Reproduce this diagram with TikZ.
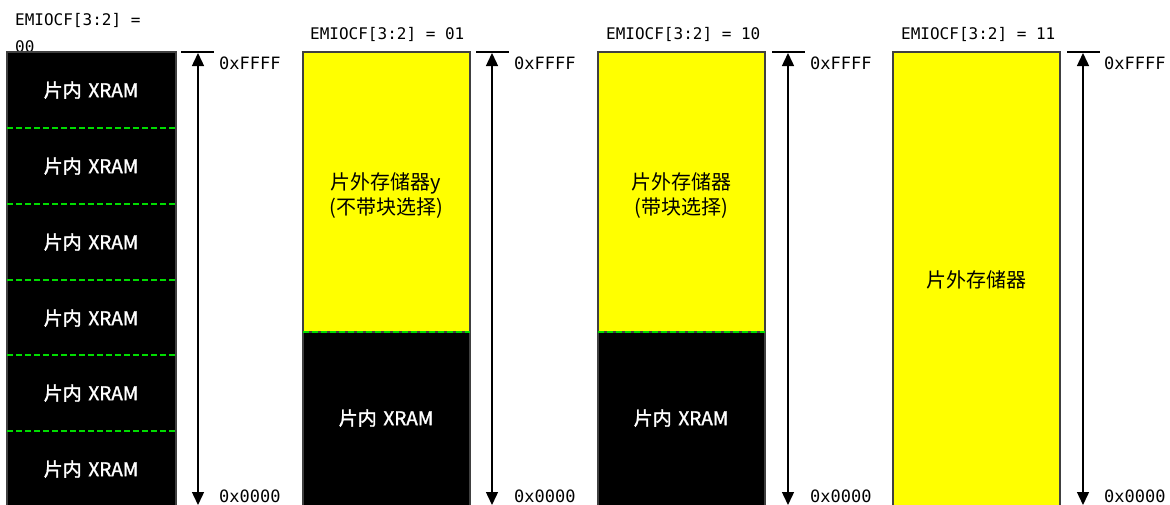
\documentclass[tikz,border=0pt]{standalone}
\usepackage{fontspec}
\setmainfont{Noto Sans CJK SC}
\newfontfamily\cjk{Noto Sans CJK SC}
\newfontfamily\cjkb[FakeBold=1.5]{Noto Sans CJK SC}
\newfontfamily\monof{DejaVu Sans Mono}
\usetikzlibrary{arrows.meta}
\definecolor{memyellow}{RGB}{255,255,0}
\definecolor{divgreen}{RGB}{0,220,0}
\tikzset{
  memblk/.style={draw=black!75,line width=1.4pt,inner sep=0pt,outer sep=0pt,anchor=north west},
  xram/.style={memblk,fill=black},
  ext/.style={memblk,fill=memyellow},
  divline/.style={divgreen,line width=2pt,dash pattern=on 6pt off 3pt},
  xramtxt/.style={text=white,font=\cjkb\fontsize{19}{22}\selectfont,inner sep=0pt},
  exttxt/.style={text=black,font=\cjk\fontsize{20}{25}\selectfont,align=center,inner sep=0pt},
  toplbl/.style={font=\monof\fontsize{16}{20}\selectfont,anchor=west,inner sep=0pt,align=left},
  hexlbl/.style={font=\monof\fontsize{17}{18}\selectfont,anchor=west,inner sep=0pt},
  tick/.style={line width=1.8pt},
  span/.style={line width=1.4pt,{Triangle[length=13pt,width=12pt]}-{Triangle[length=13pt,width=12pt]}}
}
\newcommand{\xramlabel}{片内\hspace{0.35em}XRAM}
\begin{document}
\begin{tikzpicture}[x=1pt,y=-1pt]
\useasboundingbox (0,0) rectangle (1170,504);
% ---------- column 1 ----------
\node[toplbl] (l1a) at (15,20) {EMIOCF[3:2] =};
\node[toplbl] (l1b) at (15,47) {00};
\node[xram,minimum width=169pt,minimum height=460pt] (b1) at (7,52) {};
\foreach \yy in {128,204,280,355,431} {
  \draw[divline] (7,\yy) -- (176,\yy);
}
\foreach \yy [count=\i] in {90,166,242,318,393,469} {
  \node[xramtxt] (t1\i) at (91,\yy) {\xramlabel};
}
\coordinate (a1t) at (198,53);
\coordinate (a1b) at (198,505);
\coordinate (k1l) at (181,52);
\coordinate (k1r) at (214,52);
\draw[tick] (k1l) -- (k1r);
\draw[span] (a1b) -- (a1t);
\node[hexlbl] (h1t) at (219,63) {0xFFFF};
\node[hexlbl] (h1b) at (219,496) {0x0000};
% ---------- column 2 ----------
\node[toplbl] (l2) at (310,34) {EMIOCF[3:2] = 01};
\node[ext,minimum width=167pt,minimum height=280pt] (b2y) at (303,52) {};
\node[xram,minimum width=167pt,minimum height=180pt] (b2k) at (303,332) {};
\draw[divline] (b2k.north west) -- (b2k.north east);
\node[exttxt] (t2y) at (386,196) {片外存储器y\\(不带块选择)};
\node[xramtxt] (t2k) at (386,418) {\xramlabel};
\coordinate (a2t) at (492,53);
\coordinate (a2b) at (492,505);
\coordinate (k2l) at (476,52);
\coordinate (k2r) at (509,52);
\draw[tick] (k2l) -- (k2r);
\draw[span] (a2b) -- (a2t);
\node[hexlbl] (h2t) at (514,63) {0xFFFF};
\node[hexlbl] (h2b) at (514,496) {0x0000};
% ---------- column 3 ----------
\node[toplbl] (l3) at (606,34) {EMIOCF[3:2] = 10};
\node[ext,minimum width=167pt,minimum height=280pt] (b3y) at (598,52) {};
\node[xram,minimum width=167pt,minimum height=180pt] (b3k) at (598,332) {};
\draw[divline] (b3k.north west) -- (b3k.north east);
\node[exttxt] (t3y) at (681,196) {片外存储器\\(带块选择)};
\node[xramtxt] (t3k) at (681,418) {\xramlabel};
\coordinate (a3t) at (788,53);
\coordinate (a3b) at (788,505);
\coordinate (k3l) at (772,52);
\coordinate (k3r) at (805,52);
\draw[tick] (k3l) -- (k3r);
\draw[span] (a3b) -- (a3t);
\node[hexlbl] (h3t) at (810,63) {0xFFFF};
\node[hexlbl] (h3b) at (810,496) {0x0000};
% ---------- column 4 ----------
\node[toplbl] (l4) at (901,34) {EMIOCF[3:2] = 11};
\node[ext,minimum width=167pt,minimum height=460pt] (b4y) at (893,52) {};
\node[exttxt] (t4y) at (976,280) {片外存储器};
\coordinate (a4t) at (1083,53);
\coordinate (a4b) at (1083,505);
\coordinate (k4l) at (1067,52);
\coordinate (k4r) at (1100,52);
\draw[tick] (k4l) -- (k4r);
\draw[span] (a4b) -- (a4t);
\node[hexlbl] (h4t) at (1104,63) {0xFFFF};
\node[hexlbl] (h4b) at (1104,496) {0x0000};
\end{tikzpicture}
\end{document}
